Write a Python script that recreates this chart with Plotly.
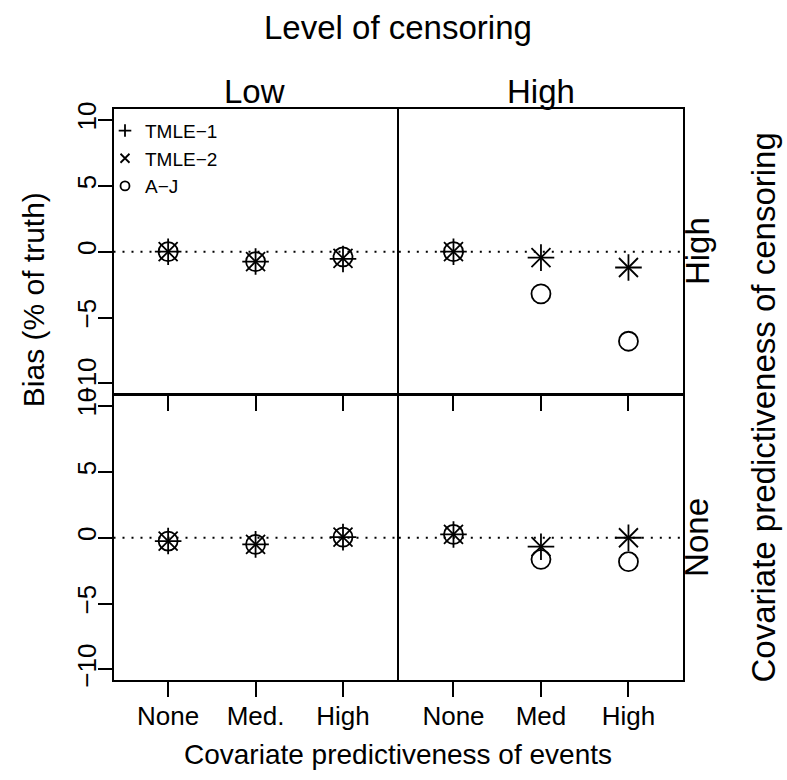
import plotly.graph_objects as go

# ---------------- data ----------------
events_low = ["None", "Med.", "High"]   # x categories, low censoring column
events_high = ["None", "Med", "High"]   # x categories, high censoring column
methods = ["TMLE\u22121", "TMLE\u22122", "A\u2212J"]

# rows: covariate predictiveness of censoring ("High" top, "None" bottom)
# columns: level of censoring ("Low", "High")
hi_low_tmle1 = [0.0, -0.75, -0.55]
hi_low_tmle2 = [0.0, -0.75, -0.50]
hi_low_aj = [0.0, -0.75, -0.40]

hi_high_tmle1 = [0.0, -0.45, -1.20]
hi_high_tmle2 = [0.0, -0.45, -1.20]
hi_high_aj = [0.0, -3.20, -6.80]

no_low_tmle1 = [-0.25, -0.50, 0.05]
no_low_tmle2 = [-0.25, -0.50, 0.05]
no_low_aj = [-0.25, -0.50, 0.05]

no_high_tmle1 = [0.25, -0.68, 0.0]
no_high_tmle2 = [0.25, -0.68, 0.0]
no_high_aj = [0.25, -1.64, -1.82]

ytick_vals = [-10, -5, 0, 5, 10]
ytick_text = ["\u221210", "\u22125", "0", "5", "10"]

# ---------------- styling ----------------
W, H = 787, 780
FONT = "Liberation Sans, Arial, Helvetica, sans-serif"
TICK = 26
XLAB = 28
YLAB = 30
MAIN = 33
LEG = 19
LW = 1.6
MLW = 1.8
symbols = ["cross-thin", "x-thin", "circle-open"]
msize = 19


def vy(y):
    # compensate the vertical offset/scale seen in the rendered page
    return (y - 8.6) / 0.978


# panel pixel boxes (left, right) / (top, bottom); shared borders offset by LW
colx = [(112.7 + LW / 2, 398.0 - LW / 2), (398.0 + LW / 2, 683.5 - LW / 2)]
rowy = [(vy(109.0) + LW / 2, vy(394.2) - LW / 2),
        (vy(394.2) + LW / 2, vy(679.5) - LW / 2)]


def xdom(c):
    return [colx[c][0] / W, colx[c][1] / W]


def ydom(r):
    return [1 - rowy[r][1] / H, 1 - rowy[r][0] / H]


panels = [
    (0, 0, events_low, [hi_low_tmle1, hi_low_tmle2, hi_low_aj]),
    (0, 1, events_high, [hi_high_tmle1, hi_high_tmle2, hi_high_aj]),
    (1, 0, events_low, [no_low_tmle1, no_low_tmle2, no_low_aj]),
    (1, 1, events_high, [no_high_tmle1, no_high_tmle2, no_high_aj]),
]

fig = go.Figure()
layout = {}
shapes = []
for i, (r, c, cats, series) in enumerate(panels):
    k = i + 1
    xa = "x" if k == 1 else f"x{k}"
    ya = "y" if k == 1 else f"y{k}"
    for m, vals in enumerate(series):
        fig.add_trace(go.Scatter(
            x=cats, y=vals, mode="markers", xaxis=xa, yaxis=ya,
            showlegend=False, hoverinfo="skip",
            marker=dict(symbol=symbols[m], size=msize, color="black",
                        line=dict(color="black", width=MLW)),
        ))
    xkey = "xaxis" if k == 1 else f"xaxis{k}"
    ykey = "yaxis" if k == 1 else f"yaxis{k}"
    layout[xkey] = dict(
        domain=xdom(c), anchor=ya, type="category",
        categoryorder="array", categoryarray=cats,
        range=[-0.625, 2.62], showgrid=False, zeroline=False,
        showline=True, mirror=True, linecolor="black", linewidth=LW,
        ticks="outside", ticklen=15, tickwidth=LW,
        tickcolor="black", showticklabels=(r == 1),
        ticklabelstandoff=-3,
        tickfont=dict(family=FONT, size=TICK, color="black"),
        fixedrange=True,
    )
    layout[ykey] = dict(
        domain=ydom(r), anchor=xa, range=[-10.8, 10.8],
        showgrid=False, zeroline=False,
        showline=True, mirror=True, linecolor="black", linewidth=LW,
        ticks="outside" if c == 0 else "", ticklen=14, tickwidth=LW,
        tickcolor="black", showticklabels=(c == 0),
        tickvals=ytick_vals, ticktext=ytick_text, tickangle=-90,
        ticklabelstandoff=-9,
        tickfont=dict(family=FONT, size=TICK, color="black"),
        fixedrange=True,
    )
    shapes.append(dict(type="line", xref=f"{xa} domain", yref=ya,
                       x0=0, x1=1, y0=0, y1=0, layer="below",
                       line=dict(color="black", width=2, dash="2px,7px")))

# legend-only traces
for m, name in enumerate(methods):
    fig.add_trace(go.Scatter(
        x=[None], y=[None], mode="markers", name=name, xaxis="x", yaxis="y",
        marker=dict(symbol=symbols[m], size=9, color="black",
                    line=dict(color="black", width=MLW)),
    ))


def ann(text, x, y, size, angle=0):
    return dict(text=text, x=x / W, y=1 - vy(y) / H, xref="paper", yref="paper",
                showarrow=False, textangle=angle, xanchor="center",
                yanchor="middle", font=dict(family=FONT, size=size, color="black"))


annotations = [
    ann("Level of censoring", 398, 28, MAIN),
    ann("Low", 255, 92, MAIN),
    ann("High", 541, 92, MAIN),
    ann("High", 697, 251, MAIN, angle=-90),
    ann("None", 697, 537, MAIN, angle=-90),
    ann("Covariate predictiveness of censoring", 764, 407, MAIN, angle=-90),
    ann("Bias (% of truth)", 33, 300, YLAB, angle=-90),
    ann("Covariate predictiveness of events", 398, 753, XLAB),
]

fig.update_layout(
    width=W, height=H, margin=dict(l=0, r=0, t=0, b=0),
    paper_bgcolor="white", plot_bgcolor="white",
    font=dict(family=FONT, color="black"),
    shapes=shapes, annotations=annotations,
    legend=dict(x=105 / W, y=1 - vy(112) / H, xanchor="left", yanchor="top",
                bgcolor="rgba(0,0,0,0)", borderwidth=0,
                font=dict(family=FONT, size=LEG, color="black"),
                itemwidth=30, tracegroupgap=0),
    showlegend=True,
    **layout,
)

fig.write_html("out.html", config={"displayModeBar": False},
               post_script="document.body.style.margin='0px';")
